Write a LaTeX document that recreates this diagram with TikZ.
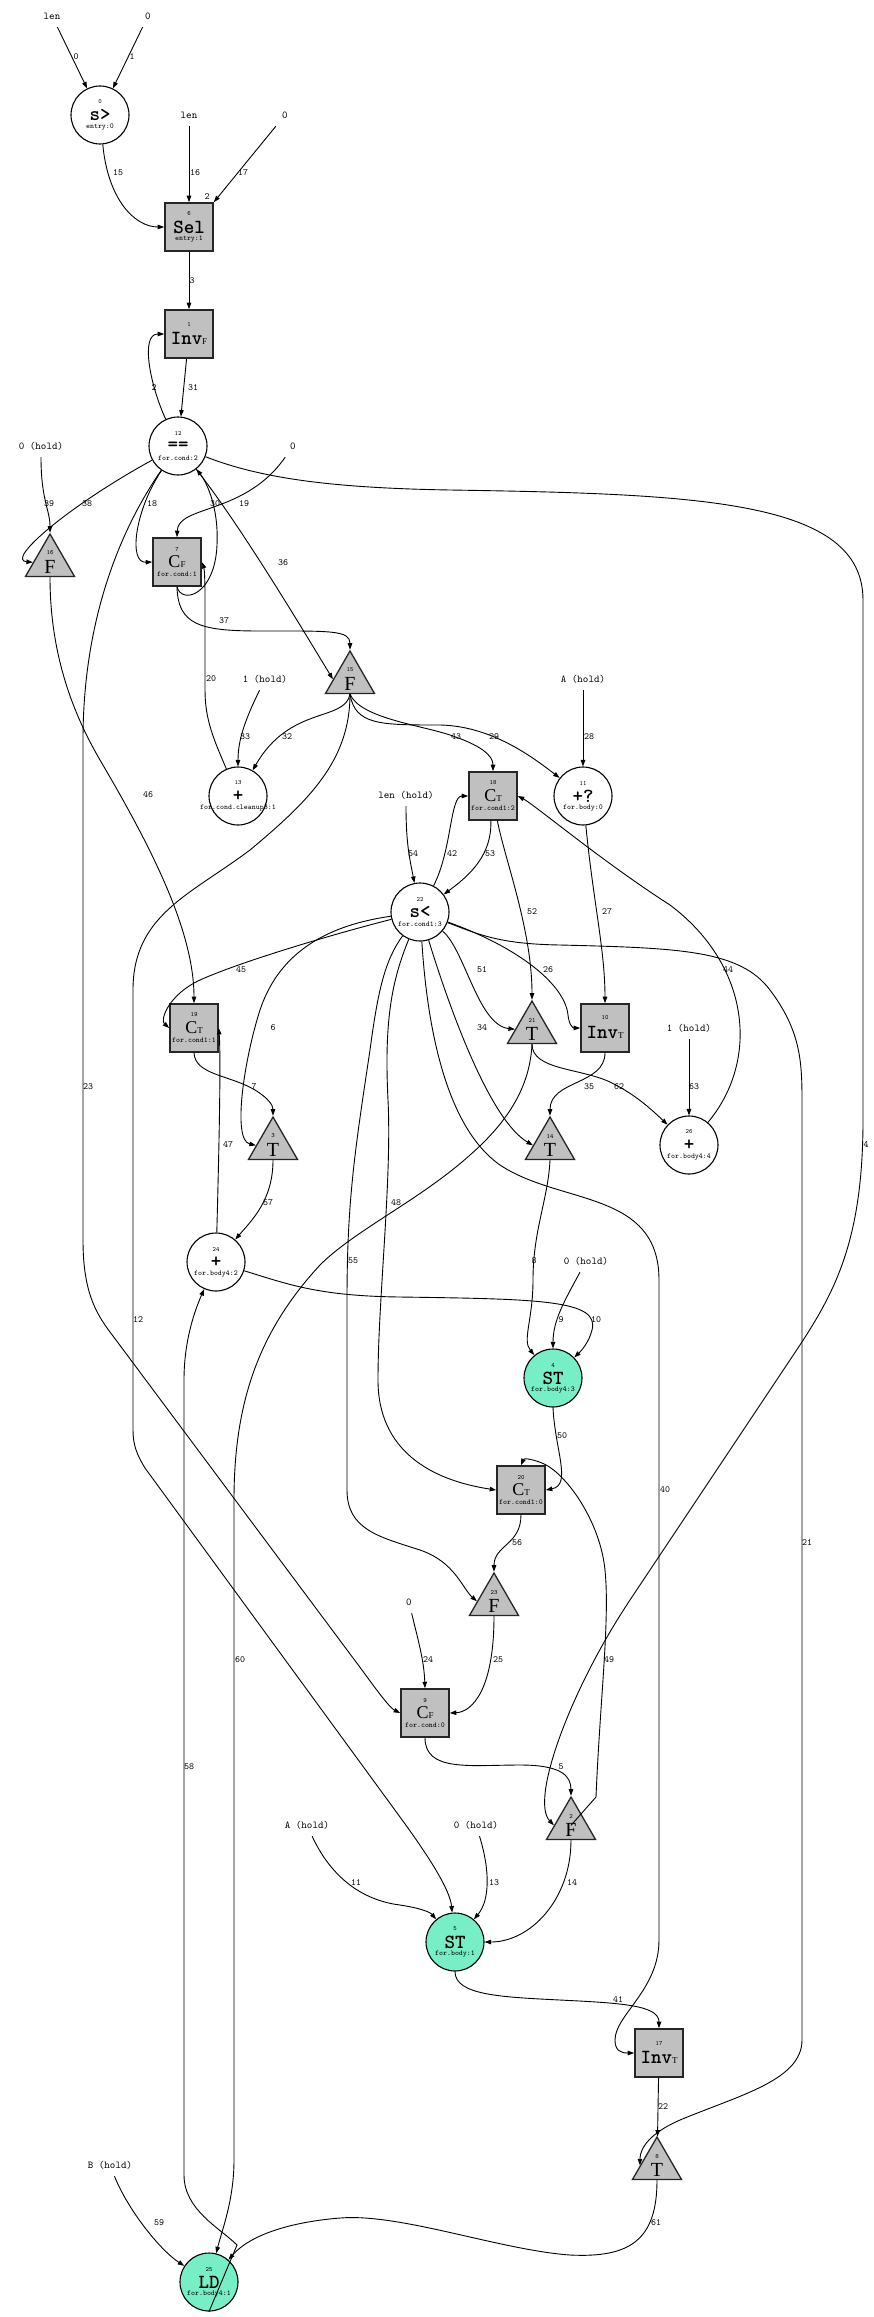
\documentclass[tikz,border=0pt]{standalone}
\usepackage{fontspec}
\newfontfamily\seriff{Liberation Serif}
\usetikzlibrary{shapes.geometric,arrows.meta}
\definecolor{boxgray}{HTML}{C0C0C0}
\definecolor{stgreen}{HTML}{76EEC6}
\newcommand{\mainf}{\ttfamily\bfseries\fontsize{20}{20}\selectfont}
\newcommand{\cfl}{{\seriff\fontsize{18}{18}\selectfont C\fontsize{9}{9}\selectfont F}}
\newcommand{\ctl}{{\seriff\fontsize{18}{18}\selectfont C\fontsize{9}{9}\selectfont T}}
\tikzset{
  edge/.style={line width=0.9pt,-{Triangle[length=6.5pt,width=4.5pt]}},
  opc/.style={circle,draw,line width=1.1pt,minimum size=58pt,inner sep=0pt,fill=white},
  opcg/.style={opc,fill=stgreen},
  opb/.style={rectangle,draw=black!85,line width=1.6pt,minimum width=48pt,minimum height=48pt,inner sep=0pt,fill=boxgray},
  tri/.style={regular polygon,regular polygon sides=3,draw=black!85,line width=1.3pt,minimum size=56.6pt,inner sep=0pt,fill=boxgray},
  numtxt/.style={font=\ttfamily\fontsize{6.5}{7}\selectfont,inner sep=0pt},
  subtxt/.style={font=\ttfamily\fontsize{7.5}{8}\selectfont,inner sep=0pt},
  elab/.style={font=\ttfamily\fontsize{9.5}{10}\selectfont,inner sep=0pt},
  src/.style={font=\ttfamily\fontsize{10.5}{11}\selectfont,inner sep=1pt,minimum height=22pt,minimum width=22pt}
}
\newcommand{\opnode}[7]{%
  \node[#2] (#1) at (#3,#4) {};
  \node[numtxt] (#1n) at (#3,#4-13) {#5};
  \node[inner sep=0pt] (#1m) at (#3,#4) {#6};
  \node[subtxt] (#1s) at (#3,#4+12) {#7};}
\newcommand{\invnode}[5]{%
  \node[opb] (#1) at (#2,#3) {};
  \node[numtxt] (#1n) at (#2,#3-10) {#4};
  \node[inner sep=0pt] (#1m) at (#2,#3+4) {\mainf Inv{\seriff\mdseries\fontsize{9}{9}\selectfont #5}};}
\newcommand{\trinode}[5]{%
  \node[tri] (#1) at (#2,#3+28.3) {};
  \node[numtxt] (#1n) at (#2,#3+19) {#4};
  \node[inner sep=0pt] (#1m) at (#2,#3+33) {\seriff\fontsize{20}{20}\selectfont #5};}
\begin{document}
\begin{tikzpicture}[x=1pt,y=-1pt]
\fill[white] (0,0) rectangle (873,2317);
\useasboundingbox (0,0) rectangle (873,2317);
% ---- operation nodes
\opnode{n0}{opc}{100}{115}{0}{\mainf s>}{entry:0}
\opnode{n6}{opb}{189}{227}{6}{\mainf Sel}{entry:1}
\invnode{n1}{189}{334}{1}{F}
\opnode{n12}{opc}{178}{446}{12}{\mainf ==}{for.cond:2}
\trinode{n16}{50}{534}{16}{F}
\opnode{n7}{opb}{177}{562}{7}{\cfl}{for.cond:1}
\trinode{n15}{350}{651}{15}{F}
\opnode{n13}{opc}{238}{796}{13}{\mainf +}{for.cond.cleanup3:1}
\opnode{n18}{opb}{493}{796}{18}{\ctl}{for.cond1:2}
\opnode{n11}{opc}{583}{796}{11}{\mainf +?}{for.body:0}
\opnode{n22}{opc}{420}{912}{22}{\mainf s<}{for.cond1:3}
\opnode{n19}{opb}{194}{1028}{19}{\ctl}{for.cond1:1}
\trinode{n21}{532}{1001}{21}{T}
\invnode{n10}{605}{1028}{10}{T}
\trinode{n3}{273}{1117}{3}{T}
\trinode{n14}{550}{1117}{14}{T}
\opnode{n26}{opc}{689}{1145}{26}{\mainf +}{for.body4:4}
\opnode{n24}{opc}{216}{1262}{24}{\mainf +}{for.body4:2}
\opnode{n4}{opcg}{553}{1378}{4}{\mainf ST}{for.body4:3}
\opnode{n20}{opb}{521}{1490}{20}{\ctl}{for.cond1:0}
\trinode{n23}{494}{1573}{23}{F}
\opnode{n9}{opb}{425}{1713}{9}{\cfl}{for.cond:0}
\trinode{n2}{571}{1797}{2}{F}
\opnode{n5}{opcg}{455}{1942}{5}{\mainf ST}{for.body:1}
\invnode{n17}{659}{2053}{17}{T}
\trinode{n8}{657}{2137}{8}{T}
\opnode{n25}{opcg}{209}{2282}{25}{\mainf LD}{for.body4:1}
% ---- source labels
\node[src] (sA) at (52,16) {len};
\node[src] (sB) at (148,16) {0};
\node[src] (sC) at (189,115) {len};
\node[src] (sD) at (285,115) {0};
\node[src] (sE) at (41,446) {0 (hold)};
\node[src] (sF) at (293,446) {0};
\node[src] (sG) at (265,679) {1 (hold)};
\node[src] (sH) at (583,679) {A (hold)};
\node[src] (sI) at (406,795) {len (hold)};
\node[src] (sJ) at (689,1028) {1 (hold)};
\node[src] (sL) at (586,1261) {0 (hold)};
\node[src] (sM) at (409,1602) {0};
\node[src] (sN) at (476,1825) {0 (hold)};
\node[src] (sO) at (307,1825) {A (hold)};
\node[src] (sK) at (110,2165) {B (hold)};
% ---- edges
\draw[edge] (sA) -- (n0);
\draw[edge] (sB) -- (n0);
\draw[edge] (n0) .. controls (108,200) and (135,227) .. (n6.west);
\draw[edge] (sC) -- (n6);
\draw[edge] (sD) -- (n6.north east);
\draw[edge] (n6) -- (n1);
\draw[edge] (n1) -- (n12);
\draw[edge] (n12) .. controls (150,385) and (140,334) .. (n1.west);
\draw[edge] (n12) .. controls (70,505) and (5,560) .. (n16.180);
\draw[edge] (sE) .. controls (41,500) and (50,510) .. (n16.90);
\draw[edge] (n12) .. controls (135,510) and (128,563) .. (n7.west);
\draw[edge] (sF) .. controls (245,515) and (178,505) .. (n7.north);
\draw[edge] (n7.south) .. controls (182,605) and (215,595) .. (217,545) .. controls (219,505) and (205,480) .. (n12);
\draw[edge] (n12) .. controls (240,525) and (300,625) .. (n15.180);
\draw[edge] (n7.south) .. controls (178,625) and (200,631) .. (260,631) .. controls (330,631) and (350,630) .. (n15.90);
\draw[edge] (n12) .. controls (260,478) and (330,488) .. (450,490) .. controls (700,494) and (863,500) .. (863,600) -- (863,1120) .. controls (863,1250) and (830,1300) .. (790,1360) -- (630,1600) .. controls (570,1690) and (530,1800) .. (n2.180);
\draw[edge] (n12) .. controls (120,530) and (83,620) .. (83,740) -- (83,1240) .. controls (83,1290) and (95,1312) .. (110,1332) -- (362,1670) .. controls (378,1692) and (390,1708) .. (n9.west);
\draw[edge] (n16.-90) .. controls (50,640) and (65,700) .. (100,760) .. controls (150,845) and (194,930) .. (n19.north);
\draw[edge] (n13) .. controls (214,740) and (205,720) .. (205,690) -- (205,595) .. controls (205,575) and (204,568) .. (n7.east);
\draw[edge] (sG) .. controls (245,720) and (238,740) .. (n13.north);
\draw[edge] (n15.-90) .. controls (345,722) and (290,705) .. (n13);
\draw[edge] (n15.-90) .. controls (360,718) and (420,725) .. (450,735) .. controls (480,745) and (493,755) .. (n18.north);
\draw[edge] (n15.-90) .. controls (355,725) and (380,725) .. (440,725) .. controls (490,726) and (530,755) .. (n11);
\draw[edge] (n15.-90) .. controls (350,760) and (310,800) .. (250,850) .. controls (190,895) and (133,915) .. (133,990) -- (133,1430) .. controls (133,1445) and (137,1455) .. (145,1468) -- (400,1817) .. controls (430,1858) and (450,1890) .. (n5);
\draw[edge] (sH) -- (n11);
\draw[edge] (sI) .. controls (406,845) and (410,860) .. (n22);
\draw[edge] (n22) .. controls (452,850) and (450,796) .. (n18.west);
\draw[edge] (n18.-95) .. controls (492,855) and (470,875) .. (n22);
\draw[edge] (n18.-80) .. controls (505,860) and (532,930) .. (n21.90);
\draw[edge] (n11) .. controls (593,900) and (605,950) .. (n10.north);
\draw[edge] (n26) .. controls (760,1060) and (750,965) .. (670,905) .. controls (600,860) and (535,805) .. (n18.east);
\draw[edge] (n22) .. controls (465,950) and (478,1025) .. (n21.180);
\draw[edge] (n22) .. controls (520,948) and (565,985) .. (568,1015) .. controls (569,1025) and (573,1028) .. (n10.west);
\draw[edge] (n22) .. controls (450,1010) and (490,1120) .. (n14.180);
\draw[edge] (n10.south) .. controls (605,1085) and (550,1080) .. (n14.90);
\draw[edge] (n21.-90) .. controls (532,1070) and (580,1068) .. (610,1082) .. controls (635,1094) and (652,1110) .. (n26);
\draw[edge] (sJ) -- (n26);
\draw[edge] (n21.-90) .. controls (530,1085) and (510,1120) .. (470,1155) .. controls (420,1200) and (355,1230) .. (320,1265) .. controls (260,1330) and (234,1400) .. (234,1500) -- (234,2160) .. controls (234,2200) and (222,2230) .. (n25);
\draw[edge] (n25.south) -- (237,2245) .. controls (220,2228) and (184,2210) .. (184,2175) -- (184,1380) .. controls (184,1340) and (195,1310) .. (n24);
\draw[edge] (sK) .. controls (128,2210) and (160,2250) .. (n25);
\draw[edge] (n8.-90) .. controls (657,2240) and (630,2258) .. (570,2255) .. controls (500,2250) and (400,2213) .. (340,2218) .. controls (290,2222) and (250,2235) .. (n25);
\draw[edge] (n5) .. controls (455,1995) and (500,1997) .. (560,2000) .. controls (620,2003) and (659,2005) .. (n17.north);
\draw[edge] (n22) .. controls (428,1040) and (450,1130) .. (500,1165) .. controls (560,1205) and (659,1190) .. (659,1280) -- (659,1940) .. controls (659,1990) and (615,2015) .. (615,2040) .. controls (615,2050) and (620,2053) .. (n17.west);
\draw[edge] (n22) .. controls (480,935) and (500,944) .. (560,945) .. controls (680,948) and (740,950) .. (770,990) .. controls (800,1030) and (802,1060) .. (802,1100) -- (802,2040) .. controls (802,2080) and (740,2095) .. (680,2120) .. controls (650,2133) and (640,2148) .. (n8.180);
\draw[edge] (n17) -- (n8);
\draw[edge] (n22) .. controls (330,935) and (240,962) .. (200,980) .. controls (168,995) and (160,1020) .. (n19.west);
\draw[edge] (n22) .. controls (330,925) and (280,950) .. (260,1010) .. controls (244,1060) and (232,1140) .. (n3.180);
\draw[edge] (n19.south) .. controls (195,1075) and (230,1075) .. (255,1090) .. controls (268,1098) and (273,1105) .. (n3.90);
\draw[edge] (n3.-90) .. controls (273,1200) and (252,1220) .. (n24);
\draw[edge] (n24) .. controls (219,1150) and (221,1060) .. (n19.east);
\draw[edge] (n24) .. controls (290,1285) and (320,1296) .. (400,1297) .. controls (540,1299) and (600,1300) .. (592,1330) .. controls (589,1342) and (582,1350) .. (n4);
\draw[edge] (n14.-90) .. controls (548,1200) and (533,1230) .. (533,1280) .. controls (533,1320) and (522,1340) .. (n4);
\draw[edge] (sL) .. controls (565,1300) and (553,1320) .. (n4.north);
\draw[edge] (n4.-90) .. controls (555,1450) and (572,1485) .. (n20.east);
\draw[edge] (n22) .. controls (392,980) and (384,1020) .. (388,1100) .. controls (392,1180) and (378,1300) .. (378,1380) .. controls (378,1450) and (430,1480) .. (n20.west);
\draw[edge] (n22) .. controls (385,960) and (378,990) .. (370,1050) .. controls (355,1150) and (347,1200) .. (347,1300) -- (347,1490) .. controls (347,1530) and (380,1537) .. (420,1550) .. controls (455,1562) and (462,1588) .. (n23.180);
\draw[edge] (n20.south) .. controls (521,1545) and (494,1545) .. (n23.90);
\draw[edge] (n2.center) -- (596,1797) .. controls (600,1700) and (610,1620) .. (605,1570) .. controls (600,1520) and (565,1472) .. (542,1463) .. controls (532,1459) and (524,1458) .. (n20.north);
\draw[edge] (n9.south) .. controls (425,1772) and (470,1765) .. (520,1765) .. controls (560,1765) and (571,1775) .. (n2.90);
\draw[edge] (sM) .. controls (418,1640) and (424,1660) .. (n9.north);
\draw[edge] (n23.-90) .. controls (494,1690) and (472,1712) .. (n9.east);
\draw[edge] (n2.-90) .. controls (571,1900) and (530,1942) .. (n5.east);
\draw[edge] (sN) .. controls (490,1870) and (490,1900) .. (n5);
\draw[edge] (sO) .. controls (330,1875) and (360,1900) .. (400,1905) .. controls (420,1908) and (430,1912) .. (n5);
% ---- edge labels
\node[elab] (l0) at (76,57) {0};
\node[elab] (l1) at (132,57) {1};
\node[elab] (l15) at (118,173) {15};
\node[elab] (l16) at (195,173) {16};
\node[elab] (l17) at (243,173) {17};
\node[elab] (lport) at (207,197) {2};
\node[elab] (l3) at (192,281) {3};
\node[elab] (l31) at (193,388) {31};
\node[elab] (l2) at (154,388) {2};
\node[elab] (l39) at (49,504) {39};
\node[elab] (l38) at (87,504) {38};
\node[elab] (l18) at (152,504) {18};
\node[elab] (l30) at (215,504) {30};
\node[elab] (l19) at (244,504) {19};
\node[elab] (l36) at (283,563) {36};
\node[elab] (l37) at (224,621) {37};
\node[elab] (l20) at (211,679) {20};
\node[elab] (l33) at (245,737) {33};
\node[elab] (l32) at (287,737) {32};
\node[elab] (l43) at (456,737) {43};
\node[elab] (l29) at (494,737) {29};
\node[elab] (l28) at (589,737) {28};
\node[elab] (l46) at (148,795) {46};
\node[elab] (l54) at (413,854) {54};
\node[elab] (l42) at (452,854) {42};
\node[elab] (l53) at (490,854) {53};
\node[elab] (l52) at (532,912) {52};
\node[elab] (l27) at (607,912) {27};
\node[elab] (l45) at (241,970) {45};
\node[elab] (l51) at (482,970) {51};
\node[elab] (l26) at (548,970) {26};
\node[elab] (l44) at (728,970) {44};
\node[elab] (l6) at (273,1028) {6};
\node[elab] (l34) at (482,1028) {34};
\node[elab] (l23) at (88,1087) {23};
\node[elab] (l7) at (254,1087) {7};
\node[elab] (l35) at (589,1087) {35};
\node[elab] (l62) at (619,1087) {62};
\node[elab] (l63) at (694,1087) {63};
\node[elab] (l47) at (228,1145) {47};
\node[elab] (l4) at (866,1145) {4};
\node[elab] (l57) at (268,1203) {57};
\node[elab] (l48) at (396,1203) {48};
\node[elab] (l55) at (353,1261) {55};
\node[elab] (l8) at (534,1261) {8};
\node[elab] (l12) at (138,1320) {12};
\node[elab] (l9) at (561,1320) {9};
\node[elab] (l10) at (596,1320) {10};
\node[elab] (l50) at (562,1436) {50};
\node[elab] (l40) at (665,1490) {40};
\node[elab] (l56) at (517,1543) {56};
\node[elab] (l21) at (807,1543) {21};
\node[elab] (l60) at (240,1660) {60};
\node[elab] (l24) at (428,1660) {24};
\node[elab] (l25) at (498,1660) {25};
\node[elab] (l49) at (609,1660) {49};
\node[elab] (l5) at (561,1767) {5};
\node[elab] (l58) at (189,1767) {58};
\node[elab] (l11) at (356,1883) {11};
\node[elab] (l13) at (494,1883) {13};
\node[elab] (l14) at (572,1883) {14};
\node[elab] (l41) at (618,2000) {41};
\node[elab] (l22) at (663,2107) {22};
\node[elab] (l59) at (159,2223) {59};
\node[elab] (l61) at (656,2223) {61};
\end{tikzpicture}
\end{document}
